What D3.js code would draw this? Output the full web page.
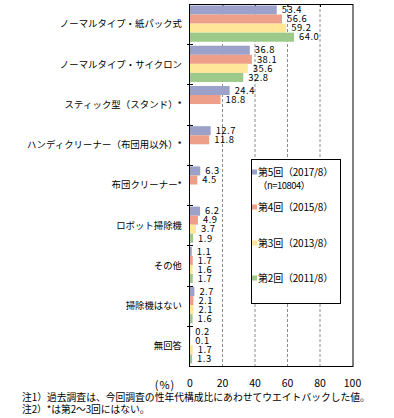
<!DOCTYPE html>
<html><head><meta charset="utf-8">
<script src="https://cdn.jsdelivr.net/npm/d3@7"></script>
<style>body{margin:0;background:#fff}svg{display:block}text{font-family:"Noto Sans CJK JP","Noto Sans",sans-serif;fill:#000}</style>
</head><body><svg id="c" width="394" height="418"></svg>
<script>
const categories = ["ノーマルタイプ・紙パック式","ノーマルタイプ・サイクロン","スティック型（スタンド）*","ハンディクリーナー（布団用以外）*","布団クリーナー*","ロボット掃除機","その他","掃除機はない","無回答"];
const s5 = [53.4,36.8,24.4,12.7,6.3,6.2,1.1,2.7,0.2];
const s4 = [56.6,38.1,18.8,11.8,4.5,4.9,1.7,2.1,0.1];
const s3 = [59.2,35.6,null,null,null,3.7,1.6,2.1,1.7];
const s2 = [64.0,32.8,null,null,null,1.9,1.7,1.6,1.3];
const seriesNames = ["第5回（2017/8）","第4回（2015/8）","第3回（2013/8）","第2回（2011/8）"];
const seriesColors = ["#9ba1c9","#ee9f89","#ffe699","#9dc98b"];
const xTicks = [0,20,40,60,80,100];
const notes = ["注1）過去調査は、今回調査の性年代構成比にあわせてウエイトバックした値。","注2）*は第2～3回にはない。"];

const series = [s5,s4,s3,s2];
const svg = d3.select("#c");
const L=190, R=352.5, T=4, B=366;
const x = d3.scaleLinear().domain([0,100]).range([L,R]);
const y = d3.scaleBand().domain(categories).range([T,B]);
const sub = d3.scaleBand().domain(d3.range(4)).range([1.5, y.bandwidth()-2.5]);
// monospace (full/half width) emulation via measured letter-spacing
const monoW = (s,fs) => Array.from(s).reduce((a,ch)=>a+(ch.charCodeAt(0)<128?0.5:1),0)*fs;
function mono(sel, fs, anchorEnd){
  sel.attr("font-size",fs).each(function(){
    const t = d3.select(this), s = t.text(), n = Array.from(s).length;
    const w = this.getComputedTextLength();
    const ls = (monoW(s,fs) - w)/n;
    t.attr("letter-spacing", ls);
    if(anchorEnd) t.attr("x", +t.attr("x") + ls);
  });
}

// gridlines
svg.append("g").selectAll("line").data(xTicks.filter(d=>d>0&&d<100)).join("line")
  .attr("x1",d=>x(d)).attr("x2",d=>x(d)).attr("y1",T).attr("y2",B)
  .attr("stroke","#8c8c8c").attr("stroke-dasharray","3,2").attr("stroke-width",1);
// top ticks
svg.append("g").selectAll("line").data(xTicks.filter(d=>d>0&&d<100)).join("line")
  .attr("x1",d=>x(d)+0.5).attr("x2",d=>x(d)+0.5).attr("y1",T).attr("y2",T+3)
  .attr("stroke","#000");

// bars
const g = svg.append("g");
categories.forEach((c,i)=>{
  series.forEach((s,j)=>{
    const v = s[i];
    if(v==null) return;
    g.append("rect").attr("x",x(0)).attr("y",y(c)+sub(j))
      .attr("width",x(v)-x(0)).attr("height",sub.bandwidth())
      .attr("fill",seriesColors[j]);
    g.append("text").attr("x",x(v)+5).attr("y",y(c)+sub(j)+sub.bandwidth()/2)
      .attr("dy","0.34em").attr("font-size",9.4).attr("letter-spacing",0.5).text(v.toFixed(1));
  });
});

// frame
svg.append("rect").attr("x",L-0.5).attr("y",T+0.5).attr("width",R-L+1).attr("height",B-T)
  .attr("fill","none").attr("stroke","#000");
// left ticks
svg.append("g").selectAll("line").data(categories.slice(1)).join("line")
  .attr("x1",L-3).attr("x2",L+3).attr("y1",d=>Math.round(y(d))+0.5).attr("y2",d=>Math.round(y(d))+0.5)
  .attr("stroke","#000");

// category labels
svg.append("g").selectAll("text").data(categories).join("text")
  .attr("x",182).attr("y",d=>y(d)+y.bandwidth()/2).attr("dy","0.36em")
  .attr("text-anchor","end").attr("font-size",9.4).text(d=>d).call(mono,9.4,true);

// x tick labels
svg.append("g").selectAll("text").data(xTicks).join("text")
  .attr("x",d=>x(d)).attr("y",383).attr("dy","0.36em").attr("text-anchor","middle")
  .attr("font-size",10.5).text(d=>d);
svg.append("text").attr("x",165).attr("y",385).attr("dy","0.36em").attr("text-anchor","middle")
  .attr("font-size",11).attr("letter-spacing",1).text("(%)");

// legend
const lg = svg.append("g");
lg.append("rect").attr("x",251.5).attr("y",159.5).attr("width",89).attr("height",144)
  .attr("fill","#fff").attr("stroke","#000");
const legY = [172,207,243,278];
seriesNames.forEach((n,j)=>{
  lg.append("rect").attr("x",252).attr("y",legY[j]-2.5).attr("width",5).attr("height",5).attr("fill",seriesColors[j]);
  lg.append("text").attr("x",258).attr("y",legY[j]).attr("dy","0.36em").attr("font-size",10).text(n).call(mono,10);
});
lg.append("text").attr("x",258).attr("y",185.5).attr("dy","0.36em").attr("font-size",9.4).text("（n=10804）").call(mono,9.4);

// notes
svg.append("g").selectAll("text").data(notes).join("text")
  .attr("x",22).attr("y",(d,i)=>397+i*12).attr("dy","0.36em").attr("font-size",9.8).text(d=>d).call(mono,9.8);
</script></body></html>
